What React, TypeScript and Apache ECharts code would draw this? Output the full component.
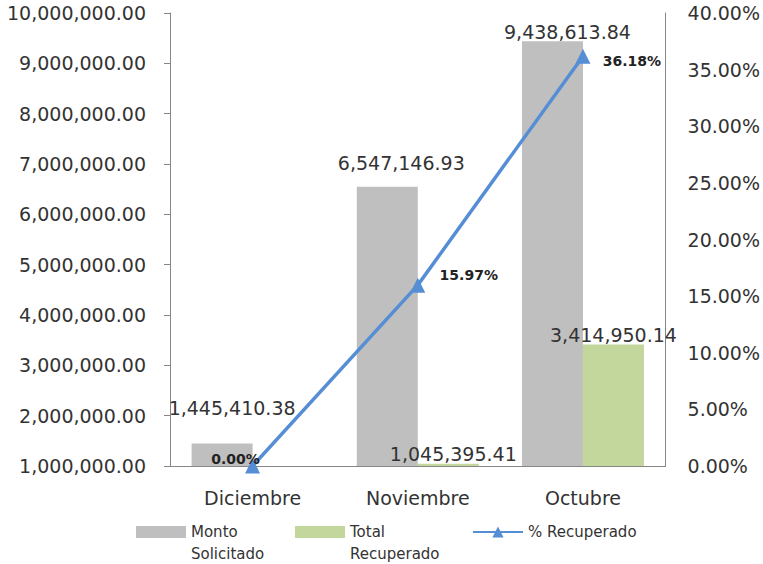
import React, { useEffect, useRef } from "react";
import * as echarts from "echarts";

const categories = ["Diciembre", "Noviembre", "Octubre"];
const montoSolicitado = [1445410.38, 6547146.93, 9438613.84];
const totalRecuperado = [0, 1045395.41, 3414950.14];
const pctRecuperado = [0.0, 0.1597, 0.3618];

const grayLabelOffsets = [[10, -26], [14, -14], [15, 0]];
const greenLabelOffsets = [[0, 0], [5, 0], [0, 0]];
const lineLabelOffsets = [[-17, -7], [51, -10], [49, 5]];

const FONT = "DejaVu Sans";
const TXT = "#333333";
const AXIS = "#868686";
const GRAY = "#BFBFBF";
const GREEN = "#C3D69B";
const BLUE = "#558ED5";

const fmtNum = (v: number) =>
  Number(v).toLocaleString("en-US", { minimumFractionDigits: 2, maximumFractionDigits: 2 });

export default function App() {
  const ref = useRef<HTMLDivElement>(null);
  useEffect(() => {
    if (!ref.current) return;
    const chart = echarts.init(ref.current, undefined, { renderer: "svg" });
    const legendText = { fontFamily: FONT, fontSize: 15, color: TXT, lineHeight: 22 };
    chart.setOption({
      animation: false,
      textStyle: { fontFamily: FONT },
      grid: { left: 170, right: 95, top: 13, bottom: 98 },
      legend: [
        {
          data: ["Monto Solicitado"],
          left: 136,
          top: 499,
          padding: 0,
          itemWidth: 50,
          itemHeight: 12,
          itemGap: 0,
          icon: "rect",
          textStyle: legendText,
          formatter: (n: string) => "\n" + n.replace(" ", "\n"),
        },
        {
          data: ["Total Recuperado"],
          left: 295,
          top: 499,
          padding: 0,
          itemWidth: 50,
          itemHeight: 12,
          itemGap: 0,
          icon: "rect",
          textStyle: legendText,
          formatter: (n: string) => "\n" + n.replace(" ", "\n"),
        },
        {
          data: ["% Recuperado"],
          left: 472,
          top: 521,
          padding: 0,
          itemWidth: 50,
          itemHeight: 14,
          itemGap: 0,
          textStyle: legendText,
        },
      ],
      xAxis: {
        type: "category",
        data: categories,
        axisLine: { show: true, lineStyle: { color: AXIS, width: 1 } },
        axisTick: { show: false },
        axisLabel: { color: TXT, fontSize: 19, fontFamily: FONT, margin: 22 },
      },
      yAxis: [
        {
          type: "value",
          min: 1000000,
          max: 10000000,
          interval: 1000000,
          splitLine: { show: false },
          axisLine: { show: true, lineStyle: { color: AXIS, width: 1 } },
          axisTick: { show: true, length: 6, lineStyle: { color: AXIS } },
          axisLabel: { color: TXT, fontSize: 19, fontFamily: FONT, margin: 24, formatter: fmtNum },
        },
        {
          type: "value",
          min: 0,
          max: 0.4,
          interval: 0.05,
          splitLine: { show: false },
          axisLine: { show: true, lineStyle: { color: AXIS, width: 1 } },
          axisTick: { show: false },
          axisLabel: {
            color: TXT,
            fontSize: 19,
            fontFamily: FONT,
            margin: 22,
            formatter: (v: number) => (v * 100).toFixed(2) + "%",
          },
        },
      ],
      series: [
        {
          name: "Monto Solicitado",
          type: "bar",
          barWidth: 61,
          barGap: "0%",
          itemStyle: { color: GRAY },
          data: montoSolicitado.map((v, i) => ({
            value: v,
            label: { offset: grayLabelOffsets[i] },
          })),
          label: {
            show: true,
            position: "top",
            distance: 0,
            color: TXT,
            fontSize: 19,
            fontFamily: FONT,
            formatter: (p: any) => fmtNum(p.value),
          },
        },
        {
          name: "Total Recuperado",
          type: "bar",
          barWidth: 61,
          barGap: "0%",
          itemStyle: { color: GREEN },
          data: totalRecuperado.map((v, i) => ({
            value: v,
            label: { offset: greenLabelOffsets[i] },
          })),
          label: {
            show: true,
            position: "top",
            distance: 0,
            color: TXT,
            fontSize: 19,
            fontFamily: FONT,
            formatter: (p: any) => (p.value ? fmtNum(p.value) : ""),
          },
        },
        {
          name: "% Recuperado",
          type: "line",
          yAxisIndex: 1,
          z: 5,
          symbol: "triangle",
          symbolSize: 15,
          lineStyle: { color: BLUE, width: 3.5 },
          itemStyle: { color: BLUE },
          data: pctRecuperado.map((v, i) => ({
            value: v,
            label: { offset: lineLabelOffsets[i] },
          })),
          label: {
            show: true,
            position: "inside",
            color: "#222",
            fontSize: 14,
            fontWeight: "bold",
            fontFamily: FONT,
            formatter: (p: any) => (p.value * 100).toFixed(2) + "%",
          },
        },
      ],
    });
    return () => chart.dispose();
  }, []);
  return (
    <div
      ref={ref}
      style={{ position: "fixed", left: 0, top: 0, width: 763, height: 564, background: "#fff" }}
    />
  );
}
